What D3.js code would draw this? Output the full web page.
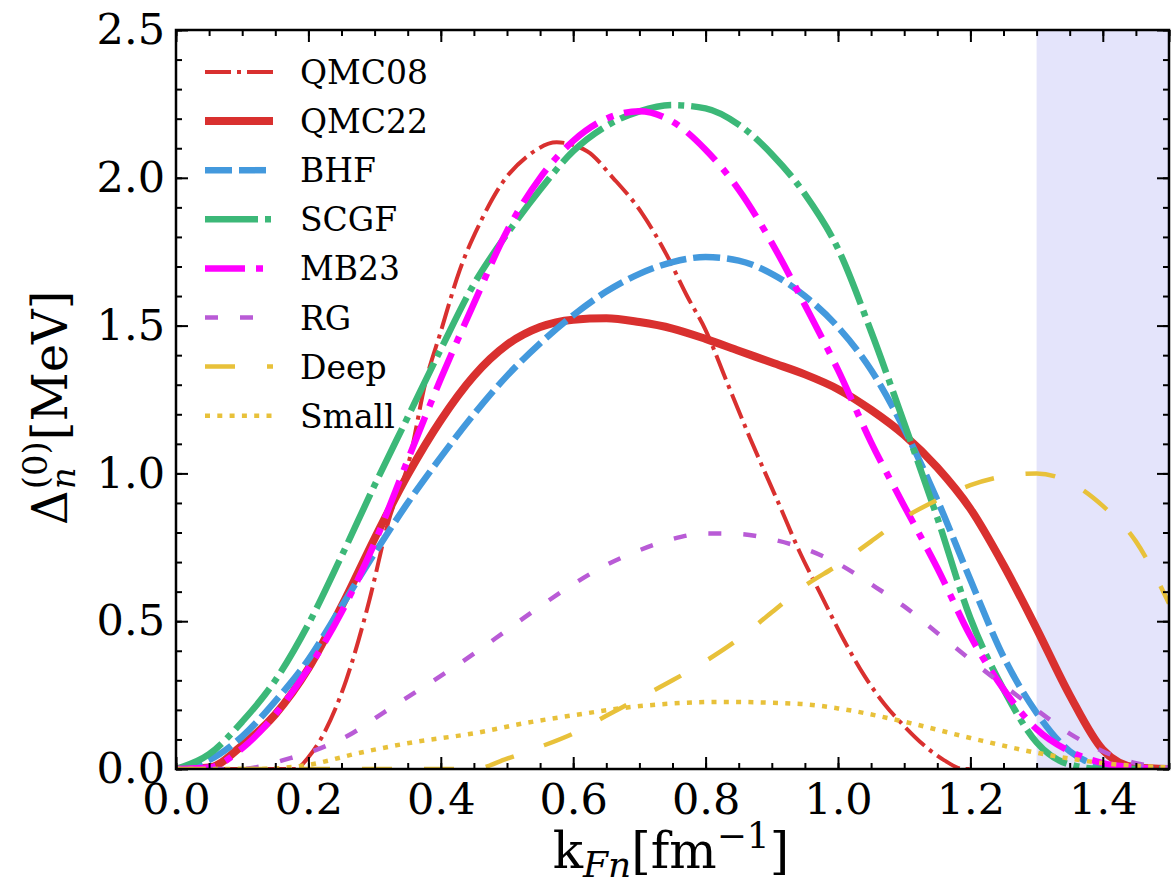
<!DOCTYPE html>
<html lang="en">
<head>
<meta charset="utf-8">
<title>Neutron pairing gap</title>
<script src="https://d3js.org/d3.v7.min.js"></script>
<style>
  body { margin: 0; background: #fff; }
  svg { display: block; background: #fff; }
  text { font-family: "DejaVu Serif", serif; fill: #000; }
</style>
</head>
<body>
<svg width="1171" height="884"></svg>
<script>
// [kFn, gap] pairs
const qmc08 = [[0,0],[0.18,0],[0.2,0.04],[0.257,0.30],[0.292,0.57],[0.32,0.83],[0.354,1.06],[0.376,1.30],
  [0.40,1.48],[0.429,1.69],[0.462,1.86],[0.489,1.97],[0.535,2.08],[0.575,2.12],[0.621,2.09],[0.66,2.0],
  [0.704,1.88],[0.741,1.74],[0.772,1.60],[0.80,1.485],[0.832,1.31],[0.867,1.12],[0.912,0.89],[0.943,0.73],
  [0.973,0.595],[1.008,0.44],[1.04,0.315],[1.07,0.22],[1.1,0.145],[1.13,0.08],[1.16,0.03],[1.19,0],[1.2,0]];
const qmc22 = [[0,0],[0.05,0.005],[0.1,0.08],[0.15,0.185],[0.2,0.34],[0.25,0.55],[0.3,0.78],[0.35,0.995],
  [0.4,1.18],[0.45,1.33],[0.5,1.435],[0.55,1.495],[0.6,1.52],[0.65,1.525],[0.7,1.512],[0.75,1.49],
  [0.8,1.455],[0.85,1.415],[0.9,1.375],[0.95,1.335],[1.0,1.285],[1.05,1.215],[1.1,1.13],[1.15,1.02],
  [1.2,0.88],[1.25,0.69],[1.3,0.475],[1.35,0.25],[1.4,0.065],[1.45,0.005],[1.5,0]];
const bhf = [[0,0],[0.05,0.03],[0.1,0.11],[0.15,0.23],[0.2,0.37],[0.25,0.55],[0.3,0.73],[0.35,0.90],
  [0.4,1.055],[0.45,1.20],[0.5,1.33],[0.55,1.44],[0.6,1.535],[0.65,1.615],[0.7,1.675],[0.75,1.715],
  [0.8,1.732],[0.85,1.72],[0.9,1.675],[0.95,1.6],[1.0,1.495],[1.05,1.35],[1.1,1.15],[1.15,0.91],
  [1.2,0.64],[1.25,0.38],[1.3,0.19],[1.35,0.06],[1.4,0.01],[1.45,0],[1.5,0]];
const scgf = [[0,0],[0.05,0.05],[0.1,0.16],[0.15,0.30],[0.2,0.49],[0.25,0.72],[0.3,0.96],[0.35,1.19],
  [0.4,1.42],[0.45,1.64],[0.5,1.81],[0.55,1.96],[0.6,2.09],[0.65,2.175],[0.7,2.225],[0.75,2.246],
  [0.8,2.235],[0.85,2.18],[0.9,2.08],[0.95,1.945],[1.0,1.76],[1.05,1.48],[1.1,1.17],[1.15,0.85],
  [1.2,0.51],[1.25,0.27],[1.3,0.09],[1.35,0.015],[1.4,0],[1.5,0]];
const mb23 = [[0,0],[0.05,0.005],[0.1,0.07],[0.15,0.185],[0.2,0.34],[0.25,0.53],[0.3,0.765],[0.35,1.045],
  [0.4,1.32],[0.45,1.575],[0.5,1.82],[0.55,2.0],[0.6,2.125],[0.65,2.2],[0.7,2.225],[0.75,2.19],
  [0.8,2.095],[0.85,1.96],[0.9,1.78],[0.95,1.57],[1.0,1.35],[1.05,1.105],[1.1,0.89],[1.15,0.68],
  [1.2,0.45],[1.25,0.27],[1.3,0.135],[1.35,0.06],[1.4,0.02],[1.45,0.005],[1.5,0]];
const rg = [[0,0],[0.1,0],[0.13,0.01],[0.162,0.03],[0.211,0.064],[0.267,0.122],[0.313,0.19],[0.363,0.262],
  [0.4,0.315],[0.45,0.39],[0.5,0.47],[0.55,0.55],[0.6,0.625],[0.65,0.69],[0.7,0.74],[0.75,0.778],
  [0.8,0.797],[0.85,0.795],[0.9,0.777],[0.95,0.745],[1.0,0.695],[1.05,0.625],[1.1,0.55],[1.15,0.46],
  [1.2,0.37],[1.25,0.283],[1.3,0.2],[1.35,0.12],[1.4,0.06],[1.45,0.02],[1.5,0.005]];
const deep = [[0,0],[0.45,0],[0.5,0.035],[0.55,0.075],[0.6,0.12],[0.65,0.18],[0.7,0.24],[0.75,0.30],[0.8,0.365],
  [0.85,0.44],[0.9,0.53],[0.95,0.62],[1.0,0.69],[1.05,0.77],[1.1,0.85],[1.15,0.91],[1.2,0.96],[1.25,0.99],
  [1.3,1.0],[1.35,0.97],[1.4,0.89],[1.45,0.77],[1.5,0.56]];
const small = [[0,0],[0.12,0],[0.2,0.014],[0.276,0.054],[0.352,0.088],[0.453,0.122],[0.529,0.156],[0.604,0.183],
  [0.689,0.21],[0.826,0.227],[0.944,0.22],[1.0,0.205],[1.1,0.16],[1.2,0.105],[1.3,0.055],[1.4,0.02],[1.5,0.005]];

const labels = ["QMC08", "QMC22", "BHF", "SCGF", "MB23", "RG", "Deep", "Small"];
const xTicks = [0, 0.2, 0.4, 0.6, 0.8, 1.0, 1.2, 1.4];
const yTicks = [0, 0.5, 1.0, 1.5, 2.0, 2.5];
const shadeBand = [1.3, 1.5];

const series = [
  {name: labels[0], data: qmc08, color: "#d9302f", width: 4, dash: "26,6,4,6"},
  {name: labels[1], data: qmc22, color: "#d9302f", width: 8, dash: null},
  {name: labels[2], data: bhf, color: "#4399dd", width: 6.5, dash: "27,7"},
  {name: labels[3], data: scgf, color: "#3cb878", width: 6.5, dash: "53,7,6,7"},
  {name: labels[4], data: mb23, color: "#ff00ff", width: 6.5, dash: "40,11,7,11"},
  {name: labels[5], data: rg, color: "#b95bd6", width: 4.5, dash: "13,22"},
  {name: labels[6], data: deep, color: "#e8c13a", width: 4.5, dash: "30,32"},
  {name: labels[7], data: small, color: "#e8c13a", width: 4.5, dash: "5,7.3"}
];

const svg = d3.select("svg");
const L = 176, R = 1169, T = 30, B = 769;

const x = d3.scaleLinear().domain([0, 1.5]).range([L, R]);
const y = d3.scaleLinear().domain([0, 2.5]).range([B, T]);

svg.append("clipPath").attr("id", "plotclip")
  .append("rect").attr("x", L).attr("y", T).attr("width", R - L).attr("height", B - T);

// shaded band
svg.append("rect")
  .attr("x", x(shadeBand[0])).attr("y", T)
  .attr("width", x(shadeBand[1]) - x(shadeBand[0])).attr("height", B - T)
  .attr("fill", "#e4e4fb");

const line = d3.line().x(d => x(d[0])).y(d => y(d[1])).curve(d3.curveMonotoneX);

const lines = svg.append("g").attr("clip-path", "url(#plotclip)");
series.forEach(s => {
  lines.append("path")
    .attr("d", line(s.data))
    .attr("fill", "none")
    .attr("stroke", s.color)
    .attr("stroke-width", s.width)
    .attr("stroke-dasharray", s.dash)
    .attr("stroke-linecap", "butt")
    .attr("stroke-linejoin", "round");
});

// axes, ticks pointing inward on all four sides
const minorX = d3.range(0, 1.5001, 0.05);
const minorY = d3.range(0, 2.5001, 0.1);
const fmt = d3.format(".1f");

function styleAxis(g) {
  g.select(".domain").remove();
  g.selectAll("line").attr("stroke", "#000").attr("stroke-width", 2);
  g.selectAll("text").style("font-family", "DejaVu Serif").style("font-size", "43px");
}

svg.append("g").attr("transform", `translate(0,${B})`)
  .call(d3.axisBottom(x).tickValues(minorX).tickSize(-6).tickFormat("")).call(styleAxis);
svg.append("g").attr("transform", `translate(0,${B})`)
  .call(d3.axisBottom(x).tickValues(xTicks).tickSize(-12).tickPadding(14).tickFormat(fmt)).call(styleAxis);
svg.append("g").attr("transform", `translate(0,${T})`)
  .call(d3.axisTop(x).tickValues(minorX).tickSize(-6).tickFormat("")).call(styleAxis);
svg.append("g").attr("transform", `translate(0,${T})`)
  .call(d3.axisTop(x).tickValues(xTicks.concat([1.5])).tickSize(-12).tickFormat("")).call(styleAxis);

svg.append("g").attr("transform", `translate(${L},0)`)
  .call(d3.axisLeft(y).tickValues(minorY).tickSize(-6).tickFormat("")).call(styleAxis);
svg.append("g").attr("transform", `translate(${L},0)`)
  .call(d3.axisLeft(y).tickValues(yTicks).tickSize(-12).tickPadding(11).tickFormat(fmt)).call(styleAxis);
svg.append("g").attr("transform", `translate(${R},0)`)
  .call(d3.axisRight(y).tickValues(minorY).tickSize(-6).tickFormat("")).call(styleAxis);
svg.append("g").attr("transform", `translate(${R},0)`)
  .call(d3.axisRight(y).tickValues(yTicks).tickSize(-12).tickFormat("")).call(styleAxis);

// frame
svg.append("rect").attr("x", L).attr("y", T).attr("width", R - L).attr("height", B - T)
  .attr("fill", "none").attr("stroke", "#000").attr("stroke-width", 2.5);

// legend
const leg = svg.append("g");
series.forEach((s, i) => {
  const ry = 72 + i * 49.1;
  leg.append("line")
    .attr("x1", 205).attr("x2", 273).attr("y1", ry).attr("y2", ry)
    .attr("stroke", s.color).attr("stroke-width", s.width)
    .attr("stroke-dasharray", s.dash);
  leg.append("text")
    .attr("x", 300).attr("y", ry + 12)
    .style("font-size", "33px")
    .text(s.name);
});

// x label: k_Fn [fm^-1]
const xl = svg.append("text").attr("y", 868).style("font-size", "50px");
xl.append("tspan").text("k");
xl.append("tspan").attr("dy", 9).style("font-size", "36px").style("font-style", "italic").text("Fn");
xl.append("tspan").attr("dy", -9).text("[fm");
xl.append("tspan").attr("dy", -20).style("font-size", "36px").text("\u22121");
xl.append("tspan").attr("dy", 20).text("]");
const xlw = xl.node().getComputedTextLength();
xl.attr("x", 671 - xlw / 2);

// y label: Delta_n^(0) [MeV]
const yg = svg.append("g").attr("transform", "translate(67,399) rotate(-90)");
const d0 = yg.append("text").attr("x", -126).attr("y", 0).style("font-size", "48px").text("\u0394");
const dw = d0.node().getComputedTextLength();
const sup = yg.append("text").attr("x", -126 + dw + 1).attr("y", -20).style("font-size", "34px").text("(0)");
yg.append("text").attr("x", -126 + dw + 1).attr("y", 8).style("font-size", "34px")
  .style("font-style", "italic").text("n");
const supw = sup.node().getComputedTextLength();
yg.append("text").attr("x", -126 + dw + 1 + supw + 1).attr("y", 0).style("font-size", "48px").text("[MeV]");
</script>
</body>
</html>
